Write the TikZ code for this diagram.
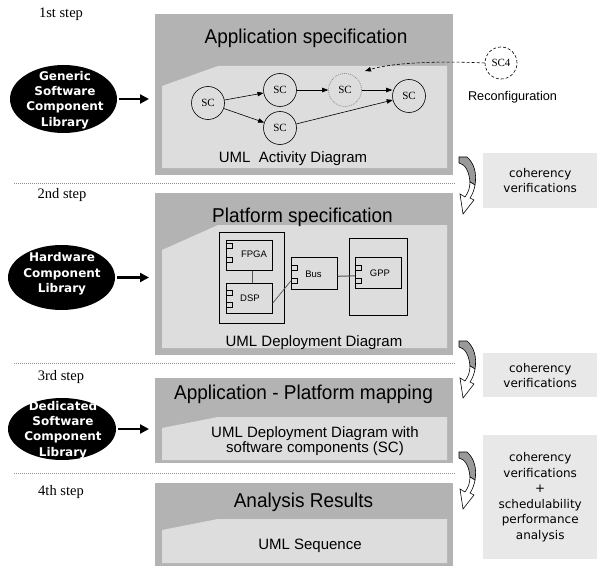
\documentclass[tikz,border=0pt]{standalone}
\usepackage{fontspec}
\setmainfont{Liberation Sans}
\newfontfamily\serf{Liberation Serif}
\newfontfamily\verd{DejaVu Sans}
\newfontfamily\titlefont[FakeStretch=0.95]{Liberation Sans}
\usetikzlibrary{shapes.geometric,arrows.meta,calc}
\definecolor{panelgray}{HTML}{B3B3B3}
\definecolor{innergray}{HTML}{DDDDDD}
\definecolor{boxgray}{HTML}{E8E8E8}
\definecolor{hookgray}{HTML}{9A9A9A}
\definecolor{sepgray}{HTML}{8C8C8C}
\definecolor{linegray}{HTML}{555555}
\tikzset{
 panel/.style={fill=panelgray, draw=none, anchor=north west, inner sep=0pt},
 innerpoly/.style={fill=innergray, draw=none},
 title/.style={font=\titlefont\fontsize{20}{22}\selectfont, anchor=base, inner sep=0pt},
 subtitle/.style={font=\fontsize{15}{13}\selectfont, anchor=base, inner sep=0pt, align=center},
 steplabel/.style={font=\serf\fontsize{14.5}{16}\selectfont, anchor=base, inner sep=0pt},
 lib/.style={ellipse, fill=black, inner sep=0pt},
 libtext/.style={text=white, font=\verd\bfseries\fontsize{12}{15.3}\selectfont, align=center, inner sep=0pt},
 bigarrow/.style={line width=2.2pt, -{Triangle[length=9pt,width=9pt]}, shorten <=2pt, shorten >=6pt},
 sepline/.style={draw=sepgray, line width=0.6pt, dash pattern=on 1pt off 1pt},
 scnode/.style={circle, draw, line width=0.6pt, minimum size=33pt, inner sep=0pt, font=\serf\fontsize{11}{12}\selectfont},
 scarrow/.style={line width=0.6pt, -{Triangle[length=6pt,width=4.5pt]}},
 comp/.style={draw, line width=0.6pt, anchor=north west, inner sep=0pt},
 port/.style={draw, line width=0.5pt, fill=innergray, minimum width=6pt, minimum height=5pt, anchor=north west, inner sep=0pt},
 complabel/.style={font=\fontsize{9.5}{11}\selectfont, inner sep=0pt},
 conn/.style={draw=linegray, line width=0.7pt},
 rbox/.style={fill=boxgray, anchor=north west, inner sep=0pt},
 rtext/.style={font=\verd\fontsize{12}{15}\selectfont, align=center, inner sep=0pt},
 pics/hook/.style={code={
  \draw[line width=0.6pt, fill=hookgray] (0,0) -- (8,0) .. controls (15,6) and (18,16) .. (16,28) -- (11,25) .. controls (10,14) and (6,7) .. (0,6) -- cycle;
  \draw[line width=0.6pt, fill=white] (11,25) -- (16,28) .. controls (15,34) and (13,38) .. (11,41) -- (15,43) -- (4,57) -- (1,37) -- (6,40) .. controls (9,36) and (11,31) .. (11,25) -- cycle;
 }},
}
\begin{document}
\begin{tikzpicture}[x=1pt,y=-1pt]
\useasboundingbox (0,0) rectangle (597,567);

% step labels
\node[steplabel] (s1) at (61,18) {1st step};
\node[steplabel] (s2) at (62,198) {2nd step};
\node[steplabel] (s3) at (61,380) {3rd step};
\node[steplabel] (s4) at (61,495) {4th step};

% separators
\coordinate (l1a) at (14,183.5); \coordinate (l1b) at (455,183.5);
\coordinate (l2a) at (14,363.5); \coordinate (l2b) at (455,363.5);
\coordinate (l3a) at (14,473.5); \coordinate (l3b) at (455,473.5);
\draw[sepline] (l1a) -- (l1b);
\draw[sepline] (l2a) -- (l2b);
\draw[sepline] (l3a) -- (l3b);

% panels
\node[panel, minimum width=298pt, minimum height=161pt] (p1) at (155,14) {};
\node[panel, minimum width=298pt, minimum height=162pt] (p2) at (155,193) {};
\node[panel, minimum width=298pt, minimum height=85pt] (p3) at (155,378) {};
\node[panel, minimum width=298pt, minimum height=83pt] (p4) at (155,483) {};
\fill[innerpoly] (162,86) -- (218,66) -- (447,66) -- (447,168) -- (162,168) -- cycle;
\fill[innerpoly] (162,250) -- (218,225) -- (447,225) -- (447,348) -- (162,348) -- cycle;
\fill[innerpoly] (162,428) -- (218,417) -- (447,417) -- (447,460) -- (162,460) -- cycle;
\fill[innerpoly] (162,530) -- (218,519) -- (447,519) -- (447,563) -- (162,563) -- cycle;

% titles
\node[title] (t1) at (306,44) {Application specification};
\node[title] (t2) at (302.5,222) {Platform specification};
\node[title] (t3) at (303.5,399) {Application - Platform mapping};
\node[title] (t4) at (303.5,507) {Analysis Results};
\node[subtitle] (u1) at (293,162) {UML\ \ Activity Diagram};
\node[subtitle] (u2) at (314,346) {UML Deployment Diagram};
\node[subtitle] (u3a) at (315,437.5) {UML Deployment Diagram with};
\node[subtitle] (u3b) at (315,452) {software components (SC)};
\node[subtitle] (u4) at (310,549) {UML Sequence};

% libraries
\node[lib, minimum width=107pt, minimum height=68pt] (e1) at (63.5,99) {};
\node[libtext] at (65,100) {Generic\\Software\\Component\\Library};
\node[lib, minimum width=107pt, minimum height=65pt] (e2) at (61.5,277.5) {};
\node[libtext] at (62,274) {Hardware\\Component\\Library};
\node[lib, minimum width=108pt, minimum height=62pt] (e3) at (62,429) {};
\node[libtext] at (63,430) {Dedicated\\Software\\Component\\Library};
\draw[bigarrow] (e1.east) -- (e1.east -| p1.west);
\draw[bigarrow] (e2.east) -- (e2.east -| p2.west);
\draw[bigarrow] (e3.east) -- (e3.east -| p3.west);

% activity diagram
\node[scnode] (sc1) at (208,103) {SC};
\node[scnode] (sc2) at (280,90) {SC};
\node[scnode] (sc3) at (280,128) {SC};
\node[scnode, draw=gray, dash pattern=on 1pt off 1pt] (scm) at (345,90) {SC};
\node[scnode] (sc5) at (409,96) {SC};
\node[scnode, minimum size=32pt, dash pattern=on 3pt off 2pt] (sc4) at (501,63) {SC4};
\node[font=\fontsize{12.7}{14}\selectfont, inner sep=0pt] (rc) at (512.5,97) {Reconfiguration};
\draw[scarrow] (sc1) -- (sc2);
\draw[scarrow] (sc1) -- (sc3);
\draw[scarrow] (sc2) -- (scm);
\draw[scarrow] (scm.east) -- (scm.east -| sc5.west);
\draw[scarrow] (sc3) -- (sc5);
\coordinate (rtarget) at (365,71);
\draw[scarrow, dash pattern=on 3pt off 2pt] (sc4.west) .. controls (445,61) and (395,62) .. (rtarget);

% deployment diagram
\node[comp, minimum width=65pt, minimum height=91pt] (nodel) at (219,232) {};
\node[comp, minimum width=46pt, minimum height=30pt] (fpga) at (226,240) {};
\node[comp, minimum width=46pt, minimum height=30pt] (dsp) at (226,283) {};
\node[comp, minimum width=46pt, minimum height=32pt] (bus) at (291,257) {};
\node[comp, minimum width=58pt, minimum height=77pt] (noder) at (349,238) {};
\node[comp, minimum width=46pt, minimum height=31pt] (gpp) at (355,257) {};
\node[port] (fp1) at (226,243) {};
\node[port] (fp2) at (226,257) {};
\node[port] (dp1) at (226,290) {};
\node[port] (dp2) at (226,302) {};
\node[port] (bp1) at (291,265) {};
\node[port] (bp2) at (291,278) {};
\node[port] (gp1) at (355,265) {};
\node[port] (gp2) at (355,278) {};
\node[complabel] at (254,254) {FPGA};
\node[complabel] at (250,298) {DSP};
\node[complabel] at (313.5,274) {Bus};
\node[complabel] at (380,273.5) {GPP};
\draw[conn] ($(fpga.south)+(3,0)$) -- ($(dsp.north)+(3,0)$);
\draw[conn, line width=1pt] ($(bus.east)+(0,3)$) -- ($(gpp.west)+(0,3)$);
\draw[conn] ($(dsp.east)+(0,5)$) -- (bp2.west);

% right boxes
\node[rbox, minimum width=114pt, minimum height=55pt] (r1) at (483,153) {};
\node[rtext] at (r1.center) {coherency\\verifications};
\node[rbox, minimum width=114pt, minimum height=44pt] (r2) at (483,353) {};
\node[rtext] at (r2.center) {coherency\\verifications};
\node[rbox, minimum width=114pt, minimum height=124pt] (r3) at (483,435) {};
\node[rtext, font=\verd\fontsize{12}{15.6}\selectfont] at (r3.center) {coherency\\verifications\\+\\schedulability\\performance\\analysis};

% hook arrows
\pic at (459,157) {hook};
\pic at (459,341) {hook};
\pic at (459,452) {hook};
\end{tikzpicture}
\end{document}
